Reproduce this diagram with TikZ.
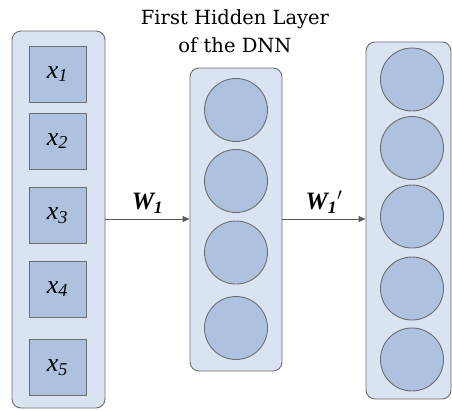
\documentclass[tikz,border=0pt]{standalone}
\usepackage{fontspec}
\usepackage{tikz}
\usetikzlibrary{arrows.meta,positioning}
\newfontfamily\tnr{Liberation Serif}
\newfontfamily\titlefont{DejaVu Serif}
\definecolor{softpanel}{HTML}{DAE3F1}
\definecolor{unitfill}{HTML}{AEC2E0}
\definecolor{linegray}{HTML}{6E6E6E}
\definecolor{arrowgray}{HTML}{5A5A5A}

\begin{document}
\begin{tikzpicture}[
  x=1pt, y=-1pt,
  panel/.style={
    rectangle, rounded corners=9pt, draw=linegray, fill=softpanel,
    line width=0.9pt, inner sep=0pt
  },
  inbox/.style={
    rectangle, draw=linegray, fill=unitfill, line width=0.9pt,
    minimum width=57pt, minimum height=56pt, inner sep=0pt,
    font=\tnr\fontsize{26}{28}\selectfont\itshape
  },
  unit/.style={
    circle, draw=linegray, fill=unitfill, line width=0.9pt,
    minimum size=63pt, inner sep=0pt
  },
  arrow/.style={-{Triangle[length=7pt,width=6pt]}, draw=arrowgray, line width=0.9pt},
  wlabel/.style={font=\tnr\fontsize{25}{27}\selectfont\bfseries\itshape}
]
\useasboundingbox (0,0) rectangle (452,410);

% panels
\node[panel, minimum width=93pt, minimum height=377pt] (inpanel) at (58.5,219.5) {};
\node[panel, minimum width=92pt, minimum height=303pt] (hidpanel) at (236,219.5) {};
\node[panel, minimum width=85pt, minimum height=357pt] (outpanel) at (408.5,220.5) {};

% input units
\node[inbox] (x1) at (57.5,74) {x\textsubscript{1}};
\node[inbox] (x2) at (57.5,141) {x\textsubscript{2}};
\node[inbox] (x3) at (57.5,215.5) {x\textsubscript{3}};
\node[inbox] (x4) at (57.5,289) {x\textsubscript{4}};
\node[inbox] (x5) at (57.5,367.5) {x\textsubscript{5}};

% hidden units
\node[unit] (h1) at (236,110) {};
\node[unit] (h2) at (236,181) {};
\node[unit] (h3) at (236,252.5) {};
\node[unit] (h4) at (236,328) {};

% output units
\node[unit] (o1) at (412,79.5) {};
\node[unit] (o2) at (412,148) {};
\node[unit] (o3) at (412,216.5) {};
\node[unit] (o4) at (412,288.5) {};
\node[unit] (o5) at (412,359.5) {};

\node[align=center, font=\titlefont\fontsize{19.5}{28}\selectfont, inner sep=0pt]
  (title) at (235,31.5) {First Hidden Layer\\of the DNN};

\coordinate (a1) at (inpanel.east |- 0,219);
\coordinate (b1) at (hidpanel.west |- 0,219);
\coordinate (a2) at (hidpanel.east |- 0,219);
\coordinate (b2) at (outpanel.west |- 0,219);

\draw[arrow] (a1) -- node[wlabel, above=2pt] {W\textsubscript{1}} (b1);
\draw[arrow] (a2) -- node[wlabel, above=2pt] {W\textsubscript{1}$'$} (b2);
\end{tikzpicture}
\end{document}
